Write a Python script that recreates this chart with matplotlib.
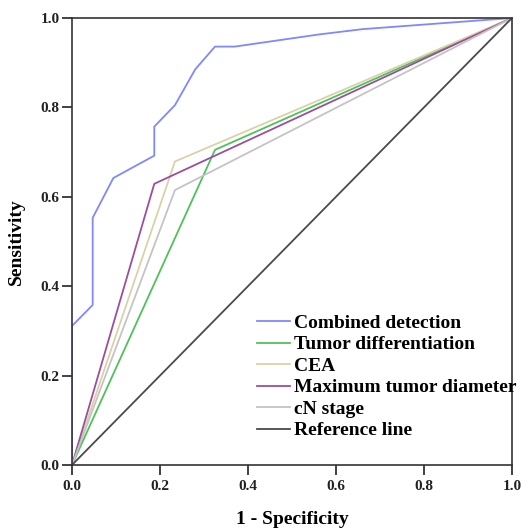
import matplotlib
matplotlib.use("Agg")
import matplotlib.pyplot as plt

plt.rcParams['font.family'] = ['Liberation Serif', 'DejaVu Serif']
plt.rcParams['font.weight'] = 'bold'

# ROC curve points (1 - specificity, sensitivity)
combined_x = [0.0, 0.0, 0.047, 0.047, 0.094, 0.187, 0.187, 0.234, 0.28, 0.325, 0.37, 0.56, 0.66, 1.0]
combined_y = [0.0, 0.311, 0.358, 0.553, 0.642, 0.692, 0.757, 0.805, 0.885, 0.936, 0.936, 0.963, 0.975, 1.0]
diff_x = [0.0, 0.325, 1.0]
diff_y = [0.0, 0.705, 1.0]
cea_x = [0.0, 0.234, 1.0]
cea_y = [0.0, 0.679, 1.0]
diam_x = [0.0, 0.187, 1.0]
diam_y = [0.0, 0.629, 1.0]
cn_x = [0.0, 0.234, 1.0]
cn_y = [0.0, 0.615, 1.0]
ref_x = [0.0, 1.0]
ref_y = [0.0, 1.0]

labels = ['Combined detection', 'Tumor differentiation', 'CEA',
          'Maximum tumor diameter', 'cN stage', 'Reference line']
colors = ['#8088ff', '#4fc15a', '#d9d2a8', '#9a4f9c', '#c4c4c4', '#4a4a4a']

fig = plt.figure(figsize=(5.31, 5.29), dpi=100)
ax = fig.add_axes([0.1356, 0.121, 0.8286, 0.845])

series = [(combined_x, combined_y), (diff_x, diff_y), (cea_x, cea_y),
          (diam_x, diam_y), (cn_x, cn_y), (ref_x, ref_y)]
for (xs, ys), lab, c in zip(series, labels, colors):
    ax.plot(xs, ys, color=c, lw=1.3, label=lab)

ax.set_xlim(0, 1)
ax.set_ylim(0, 1)
ticks = [0.0, 0.2, 0.4, 0.6, 0.8, 1.0]
ax.set_xticks(ticks)
ax.set_yticks(ticks)
ax.set_xticklabels(['%.1f' % t for t in ticks], fontsize=11, fontweight='bold')
ax.set_yticklabels(['%.1f' % t for t in ticks], fontsize=11, fontweight='bold')
ax.tick_params(direction='out', length=7, width=1.2, colors='#222222', pad=2)
ax.tick_params(axis='x', pad=4)
for s in ax.spines.values():
    s.set_linewidth(1.2)
    s.set_color('#333333')

ax.set_xlabel('1 - Specificity', fontsize=14, fontweight='bold', labelpad=13)
ax.set_ylabel('Sensitivity', fontsize=14, fontweight='bold', labelpad=11)

leg = ax.legend(loc='upper left', bbox_to_anchor=(0.42, 0.337), frameon=False,
                fontsize=14, handlelength=1.7, handletextpad=0.2,
                labelspacing=0.2, borderaxespad=0, borderpad=0)
for t in leg.get_texts():
    t.set_fontweight('bold')

fig.savefig('out.png', dpi=100)
